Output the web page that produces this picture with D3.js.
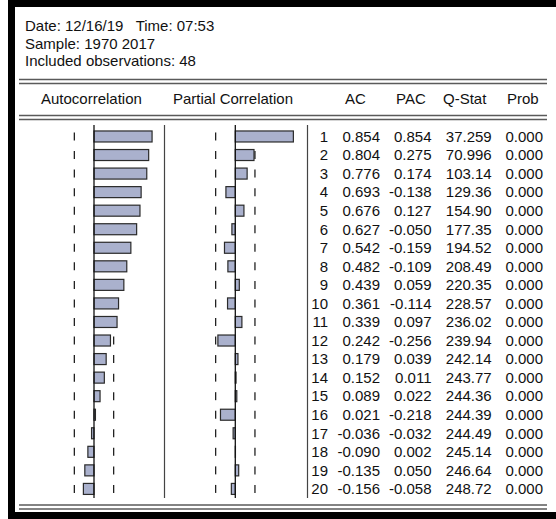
<!DOCTYPE html>
<html><head><meta charset="utf-8">
<script src="https://cdn.jsdelivr.net/npm/d3@7/dist/d3.min.js"></script>
<style>
html,body{margin:0;padding:0;background:#fff;}
svg{display:block;}
text{font-family:"Liberation Sans",Arial,sans-serif;font-size:15px;fill:#111;white-space:pre;}
</style></head>
<body>
<svg id="c" width="556" height="519"></svg>
<script>
const infoLines = ["Date: 12/16/19   Time: 07:53", "Sample: 1970 2017", "Included observations: 48"];
const headers = ["Autocorrelation", "Partial Correlation", "AC", "PAC", "Q-Stat", "Prob"];
const lags = [1,2,3,4,5,6,7,8,9,10,11,12,13,14,15,16,17,18,19,20];
const ac = [0.854,0.804,0.776,0.693,0.676,0.627,0.542,0.482,0.439,0.361,0.339,0.242,0.179,0.152,0.089,0.021,-0.036,-0.090,-0.135,-0.156];
const pac = [0.854,0.275,0.174,-0.138,0.127,-0.050,-0.159,-0.109,0.059,-0.114,0.097,-0.256,0.039,0.011,0.022,-0.218,-0.032,0.002,0.050,-0.058];
const qstat = ["37.259","70.996","103.14","129.36","154.90","177.35","194.52","208.49","220.35","228.57","236.02","239.94","242.14","243.77","244.36","244.39","244.49","245.14","246.64","248.72"];
const prob = ["0.000","0.000","0.000","0.000","0.000","0.000","0.000","0.000","0.000","0.000","0.000","0.000","0.000","0.000","0.000","0.000","0.000","0.000","0.000","0.000"];
const bound = 0.289;

const svg = d3.select("#c");
const fmt = d3.formatLocale({decimal:".", thousands:",", grouping:[3], currency:["",""], minus:"-"}).format(".3f");

// frame
svg.append("rect").attr("x",0).attr("y",0).attr("width",556).attr("height",519).attr("fill","#fff");
svg.append("rect").attr("x",8).attr("y",0).attr("width",548).attr("height",7).attr("fill","#000");
svg.append("rect").attr("x",8).attr("y",0).attr("width",7).attr("height",519).attr("fill","#000");
svg.append("rect").attr("x",8).attr("y",512).attr("width",548).attr("height",7).attr("fill","#000");

// info text
svg.selectAll("text.info").data(infoLines).enter().append("text")
  .attr("class","info").attr("x",25).attr("y",(d,i)=>31+i*17.7).text(d=>d);

// double rules
function dbl(y){
  [y, y+4].forEach(yy=>svg.append("line").attr("x1",19).attr("x2",547).attr("y1",yy).attr("y2",yy)
    .attr("stroke","#5a5a5a").attr("stroke-width",1.6));
}
dbl(79.5); dbl(115.5); dbl(505);

// headers
const headerX = [41,173,345,396,443,507];
svg.selectAll("text.hdr").data(headers).enter().append("text")
  .attr("class","hdr").attr("x",(d,i)=>headerX[i]).attr("y",104).text(d=>d);

// scales
const y = d3.scaleBand().domain(lags).range([127.2,498.2]).paddingInner(0);
const xA = d3.scaleLinear().domain([-1,1]).range([94-68,94+68]);
const xP = d3.scaleLinear().domain([-1,1]).range([235.3-68,235.3+68]);
const barH = 11;
const cy = d => y(d)+y.bandwidth()/2;

// separators
[164.5, 307.5].forEach(x=>svg.append("line").attr("x1",x).attr("x2",x).attr("y1",125).attr("y2",498)
  .attr("stroke","#444").attr("stroke-width",1.2));

function panel(xs, vals){
  const g = svg.append("g");
  [-bound, bound].forEach(b=>{
    g.selectAll(null).data(lags).enter().append("line")
      .attr("x1",xs(b)).attr("x2",xs(b))
      .attr("y1",d=>cy(d)-4).attr("y2",d=>cy(d)+4)
      .attr("stroke","#222").attr("stroke-width",1.3);
  });
  g.selectAll(null).data(lags).enter().append("rect")
    .attr("x",(d,i)=>Math.min(xs(0),xs(vals[i])))
    .attr("width",(d,i)=>Math.abs(xs(vals[i])-xs(0)))
    .attr("y",d=>cy(d)-barH/2).attr("height",barH)
    .attr("fill","#aab1cd").attr("stroke","#2a2a2a").attr("stroke-width",1.2);
  g.append("line").attr("x1",xs(0)).attr("x2",xs(0)).attr("y1",125).attr("y2",498)
    .attr("stroke","#111").attr("stroke-width",1.3);
}
panel(xA, ac);
panel(xP, pac);

// numeric columns
const cols = [
  {x:328, v:lags.map(String)},
  {x:380, v:ac.map(fmt)},
  {x:431.5, v:pac.map(fmt)},
  {x:491.7, v:qstat},
  {x:543, v:prob}
];
cols.forEach(c=>{
  svg.selectAll(null).data(lags).enter().append("text")
    .attr("x",c.x).attr("y",d=>cy(d)+5.3).attr("text-anchor","end")
    .text((d,i)=>c.v[i]);
});
</script>
</body></html>
